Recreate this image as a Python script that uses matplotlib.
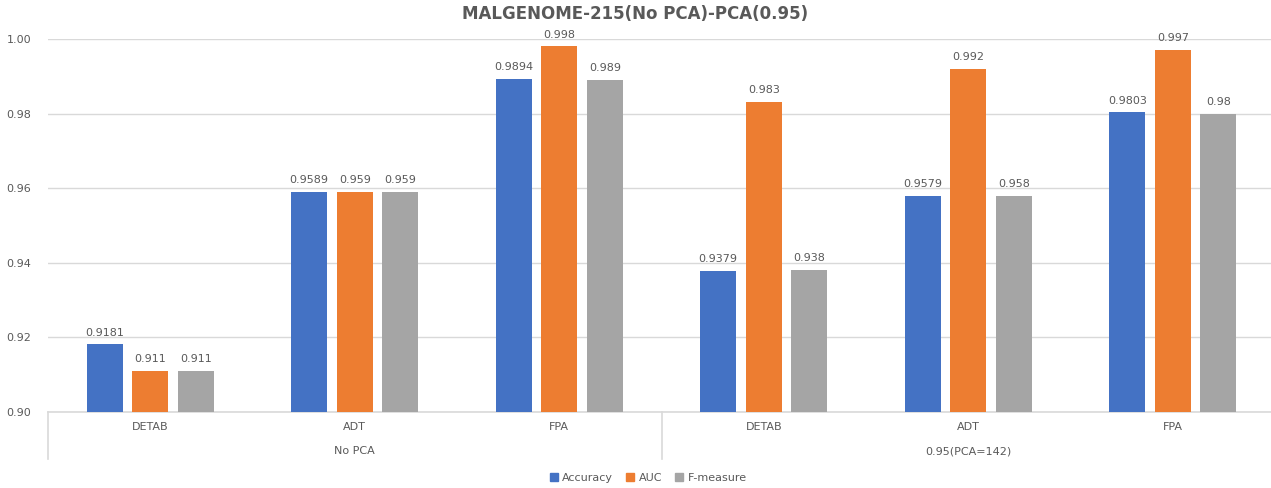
import numpy as np
import matplotlib.pyplot as plt
from matplotlib.patches import Patch

methods = ["DETAB", "ADT", "FPA", "DETAB", "ADT", "FPA"]
settings = ["No PCA", "0.95(PCA=142)"]
accuracy = [0.9181, 0.9589, 0.9894, 0.9379, 0.9579, 0.9803]
auc = [0.911, 0.959, 0.998, 0.983, 0.992, 0.997]
fmeasure = [0.911, 0.959, 0.989, 0.938, 0.958, 0.98]
acc_labels = ["0.9181", "0.9589", "0.9894", "0.9379", "0.9579", "0.9803"]
auc_labels = ["0.911", "0.959", "0.998", "0.983", "0.992", "0.997"]
fm_labels = ["0.911", "0.959", "0.989", "0.938", "0.958", "0.98"]

txt = "#595959"
grid = "#d9d9d9"

fig = plt.figure(figsize=(12.71, 4.88), dpi=100)
ax = fig.add_axes([48 / 1271, 76 / 488, 1227 / 1271, 373 / 488])

x = np.arange(len(methods))
w = 0.176
step = 0.2225
series = [(accuracy, acc_labels, "#4472C4", "Accuracy"),
          (auc, auc_labels, "#ED7D31", "AUC"),
          (fmeasure, fm_labels, "#A5A5A5", "F-measure")]
for i, (vals, labs, col, name) in enumerate(series):
    bars = ax.bar(x + (i - 1) * step, np.array(vals) - 0.9, w, bottom=0.9,
                  color=col, zorder=3)
    ax.bar_label(bars, labels=labs, padding=5, fontsize=8, color=txt)

ax.set_ylim(0.9, 1.0)
ax.set_xlim(-0.5, 5.5)
ax.set_yticks(np.arange(0.90, 1.001, 0.02))
ax.set_yticklabels([f"{v:.2f}" for v in np.arange(0.90, 1.001, 0.02)])
ax.tick_params(axis="y", length=0, pad=12, labelsize=8, labelcolor=txt)
ax.set_xticks([])
ax.grid(axis="y", color=grid, linewidth=1, zorder=0)
for s in ["top", "right", "left"]:
    ax.spines[s].set_visible(False)
ax.spines["bottom"].set_color(grid)
ax.spines["bottom"].set_linewidth(1.2)

tr = ax.get_xaxis_transform()
for xi, m in zip(x, methods):
    ax.text(xi, -0.040, m, transform=tr, ha="center", va="center",
            fontsize=8, color=txt)
for j, s in enumerate(settings):
    ax.text(j * 3 + 1, -0.105, s, transform=tr, ha="center", va="center",
            fontsize=8, color=txt)
for xv in [-0.5, 2.5, 5.5]:
    ax.plot([xv, xv], [0, -0.126], transform=tr, color=grid, lw=1.2,
            clip_on=False)

fig.text(0.5, 0.971, "MALGENOME-215(No PCA)-PCA(0.95)", ha="center",
         va="center", fontsize=12, fontweight="bold", color=txt)

handles = [Patch(color=c, label=n) for _, _, c, n in series]
fig.legend(handles=handles, loc="center", bbox_to_anchor=(0.51, 0.02),
           ncol=3, frameon=False, fontsize=8, labelcolor=txt,
           handlelength=0.7, handleheight=0.7, handletextpad=0.4,
           columnspacing=1.2)

fig.savefig("out.png", dpi=100)
